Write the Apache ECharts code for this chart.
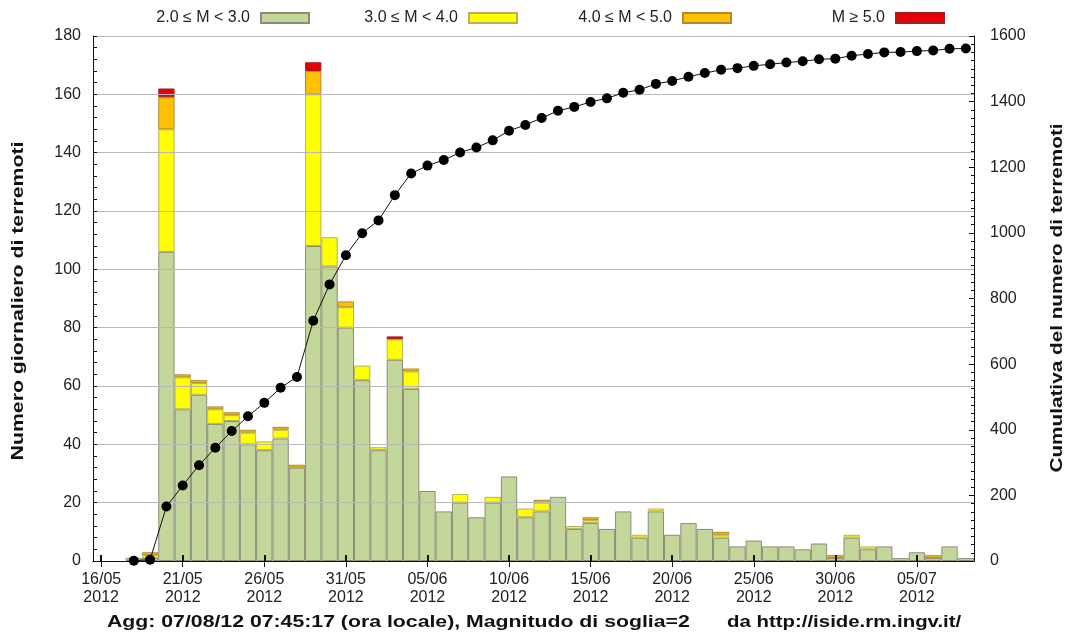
<!DOCTYPE html>
<html>
<head>
<meta charset="utf-8">
<script src="https://cdn.jsdelivr.net/npm/echarts@6/dist/echarts.min.js"></script>
<style>
html,body{margin:0;padding:0;background:#fff;}
#chart{width:1072px;height:638px;}
</style>
</head>
<body>
<div id="chart"></div>
<script>
const categories = ['16/05','17/05','18/05','19/05','20/05','21/05','22/05','23/05','24/05','25/05','26/05','27/05','28/05','29/05','30/05','31/05',
  '01/06','02/06','03/06','04/06','05/06','06/06','07/06','08/06','09/06','10/06','11/06','12/06','13/06','14/06','15/06','16/06','17/06','18/06','19/06','20/06',
  '21/06','22/06','23/06','24/06','25/06','26/06','27/06','28/06','29/06','30/06',
  '01/07','02/07','03/07','04/07','05/07','06/07','07/07','08/07'];
const yearLabel = '2012';
const seriesNames = ['2.0 \u2264 M < 3.0','3.0 \u2264 M < 4.0','4.0 \u2264 M < 5.0','M \u2265 5.0'];
const m2to3 = ['-','-',1,1,106,52,57,47,48,40,38,42,32,108,101,80,
  62,38,69,59,24,17,20,15,20,29,15,17,22,11,13,11,17,8,17,9,13,11,8,5,7,5,5,4,6,1,
  8,4,5,1,3,1,5,1];
const m3to4 = ['-','-','-',1,42,11,4,5,2,4,3,3,'-',52,10,7,
  5,1,7,6,'-','-',3,'-',2,'-',3,3,'-',1,1,'-','-',1,1,'-','-','-',1,'-','-','-','-','-','-','-',
  1,1,'-','-','-','-','-','-'];
const m4to5 = ['-','-','-',1,11,1,1,1,1,1,'-',1,1,8,'-',2,
  '-','-','-',1,'-','-','-','-','-','-','-',1,'-','-',1,'-','-','-','-','-','-','-',1,'-','-','-','-','-','-',1,
  '-','-','-','-','-',1,'-','-'];
const m5plus = ['-','-','-','-',3,'-','-','-','-','-','-','-','-',3,'-','-',
  '-','-',1,'-','-','-','-','-','-','-','-','-','-','-','-','-','-','-','-','-','-','-','-','-','-','-','-','-','-','-',
  '-','-','-','-','-','-','-','-'];
const cumulative = ['-','-',1,4,166,230,292,345,396,441,482,528,561,732,843,932,
  999,1038,1115,1181,1205,1222,1245,1260,1282,1311,1329,1350,1372,1384,1399,1410,1427,1436,1454,1463,1476,1487,1497,1502,1509,1514,1519,1523,1529,1531,
  1540,1545,1550,1551,1554,1556,1561,1562];
const leftTicks = {min:0, max:180, interval:20};
const rightTicks = {min:0, max:1600, interval:200};
const leftTitle = 'Numero giornaliero di terremoti';
const rightTitle = 'Cumulativa del numero di terremoti';
const footerLeft = 'Agg: 07/08/12 07:45:17 (ora locale), Magnitudo di soglia=2';
const footerRight = 'da http://iside.rm.ingv.it/';

const colors = ['#c4d79b','#ffff00','#ffc000','#e8000b'];
const borders = ['#8c8c78','#b8b060','#b08a30','#a02020'];
const font = 'Liberation Sans, Arial, sans-serif';
const chart = echarts.init(document.getElementById('chart'), null, {renderer:'canvas'});

const barData = [m2to3, m3to4, m4to5, m5plus];
const barSeries = barData.map((d,i)=>({
  name: seriesNames[i], type:'bar', stack:'m', data:d, xAxisIndex:0, yAxisIndex:0,
  barWidth:'100%', barCategoryGap:0, z:2,
  itemStyle:{color:colors[i], borderColor:borders[i], borderWidth:1},
  emphasis:{disabled:true}
}));

const legendRights = [762,554,340,127];
const legends = seriesNames.map((n,i)=>({
  data:[n], right:legendRights[i], top:10, align:'right', padding:0,
  itemWidth:48, itemHeight:10, icon:'rect',
  textStyle:{fontFamily:font, fontSize:16, color:'#222', padding:[0,6,0,0]},
  selectedMode:false
}));

const showEvery5 = (idx)=> idx % 5 === 0;
const boldFont = 'bold 17px "Liberation Sans", Arial, sans-serif';

chart.setOption({
  animation:false,
  backgroundColor:'#fff',
  legend: legends,
  graphic:[
    {type:'text', x:107, y:622, scaleX:1.25, silent:true,
     style:{text:footerLeft, font:boldFont, fill:'#111', align:'left', verticalAlign:'middle'}},
    {type:'text', x:727, y:622, scaleX:1.2, silent:true,
     style:{text:footerRight, font:boldFont, fill:'#111', align:'left', verticalAlign:'middle'}},
    {type:'text', x:18, y:301, rotation:Math.PI/2, scaleX:1.25, silent:true,
     style:{text:leftTitle, font:boldFont, fill:'#111', align:'center', verticalAlign:'middle'}},
    {type:'text', x:1057, y:298, rotation:Math.PI/2, scaleX:1.22, silent:true,
     style:{text:rightTitle, font:boldFont, fill:'#111', align:'center', verticalAlign:'middle'}}
  ],
  grid:{left:93, right:98, top:36, bottom:77, containLabel:false},
  xAxis:[
    {type:'category', data:categories, position:'bottom', boundaryGap:true, z:3,
     axisLine:{show:true, lineStyle:{color:'#111', width:1}},
     axisTick:{show:true, inside:true, length:6, alignWithLabel:true, interval:showEvery5, lineStyle:{color:'#111', width:2}},
     axisLabel:{show:true, interval:showEvery5, margin:10, fontFamily:font, fontSize:16, color:'#222', lineHeight:18,
       formatter:(v)=> v + '\n' + yearLabel},
     splitLine:{show:false}},
    {type:'category', data:categories, position:'top', boundaryGap:true, z:3,
     axisLine:{show:true, lineStyle:{color:'#111', width:1}},
     axisTick:{show:true, inside:true, length:6, alignWithLabel:true, interval:showEvery5, lineStyle:{color:'#111', width:1}},
     axisLabel:{show:false}, splitLine:{show:false}}
  ],
  yAxis:[
    {type:'value', position:'left', min:leftTicks.min, max:leftTicks.max, interval:leftTicks.interval, z:3,
     axisLine:{show:true, lineStyle:{color:'#111', width:1}},
     axisTick:{show:true, inside:true, length:4, lineStyle:{color:'#111'}},
     minorTick:{show:true, splitNumber:5, length:4, lineStyle:{color:'#111'}},
     axisLabel:{margin:12, fontFamily:font, fontSize:16, color:'#222'},
     splitLine:{show:true, lineStyle:{color:'#b8b8b8', width:1}}},
    {type:'value', position:'right', min:rightTicks.min, max:rightTicks.max, interval:rightTicks.interval, z:3,
     axisLine:{show:true, lineStyle:{color:'#111', width:1}},
     axisTick:{show:true, inside:true, length:5, lineStyle:{color:'#111'}},
     minorTick:{show:true, splitNumber:8, length:3, lineStyle:{color:'#111'}},
     axisLabel:{margin:16, fontFamily:font, fontSize:16, color:'#222', formatter:(v)=> String(v)},
     splitLine:{show:false}}
  ],
  series: barSeries.concat([{
    name:'Cumulativa', type:'line', data:cumulative, xAxisIndex:0, yAxisIndex:1, z:5,
    symbol:'circle', symbolSize:10, showAllSymbol:true,
    lineStyle:{color:'#111', width:1}, itemStyle:{color:'#000'},
    emphasis:{disabled:true}
  }])
});
</script>
</body>
</html>
